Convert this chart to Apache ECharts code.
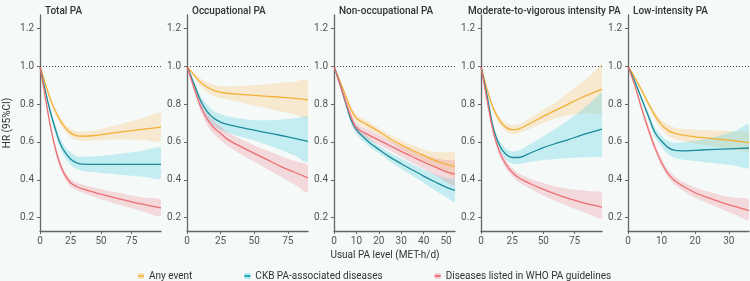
<!DOCTYPE html>
<html>
<head>
<meta charset="utf-8">
<script src="https://cdn.jsdelivr.net/npm/echarts@6/dist/echarts.min.js"></script>
<style>
  html, body { margin: 0; padding: 0; background: #f5f9f8; }
  #chart { width: 750px; height: 281px; }
</style>
</head>
<body>
<div id="chart"></div>
<script>
// panel setup
const panelTitles = ["Total PA", "Occupational PA", "Non-occupational PA", "Moderate-to-vigorous intensity PA", "Low-intensity PA"];
const titleLeft = [40, 187, 334, 463, 628];
const xMax = [99, 90, 54, 97, 36];
const xTicks = [[0, 25, 50, 75], [0, 25, 50, 75], [0, 10, 20, 30, 40, 50], [0, 25, 50, 75], [0, 10, 20, 30]];
const yTicks = [0.2, 0.4, 0.6, 0.8, 1.0, 1.2];
const groupNames = ["Any event", "CKB PA-associated diseases", "Diseases listed in WHO PA guidelines"];

// Total PA
const totalX = [0, 4, 8, 12, 16, 20, 25, 30, 35, 45, 55, 65, 75, 85, 99];
const totalAny = [1.0, 0.915, 0.835, 0.77, 0.72, 0.68, 0.648, 0.633, 0.63, 0.634, 0.643, 0.652, 0.66, 0.668, 0.678];
const totalAnyLo = [1.0, 0.91, 0.825, 0.755, 0.7, 0.66, 0.626, 0.61, 0.605, 0.609, 0.612, 0.613, 0.612, 0.61, 0.608];
const totalAnyHi = [1.0, 0.92, 0.845, 0.785, 0.74, 0.7, 0.67, 0.656, 0.655, 0.661, 0.676, 0.692, 0.71, 0.727, 0.75];
const totalCkb = [1.0, 0.88, 0.77, 0.68, 0.6, 0.55, 0.51, 0.49, 0.483, 0.482, 0.482, 0.482, 0.482, 0.482, 0.482];
const totalCkbLo = [1.0, 0.87, 0.75, 0.655, 0.575, 0.52, 0.48, 0.458, 0.447, 0.44, 0.433, 0.427, 0.422, 0.416, 0.41];
const totalCkbHi = [1.0, 0.89, 0.79, 0.705, 0.63, 0.58, 0.545, 0.525, 0.522, 0.525, 0.53, 0.537, 0.545, 0.555, 0.567];
const totalWho = [1.0, 0.85, 0.7, 0.58, 0.49, 0.43, 0.385, 0.365, 0.352, 0.333, 0.316, 0.299, 0.284, 0.27, 0.252];
const totalWhoLo = [1.0, 0.84, 0.685, 0.56, 0.47, 0.41, 0.365, 0.345, 0.332, 0.308, 0.288, 0.268, 0.25, 0.232, 0.21];
const totalWhoHi = [1.0, 0.86, 0.715, 0.6, 0.51, 0.45, 0.405, 0.386, 0.374, 0.358, 0.344, 0.33, 0.318, 0.306, 0.295];

// Occupational PA
const occX = [0, 5, 10, 15, 20, 25, 30, 40, 50, 60, 70, 80, 90];
const occAny = [1.0, 0.955, 0.915, 0.89, 0.872, 0.862, 0.857, 0.851, 0.846, 0.841, 0.836, 0.83, 0.822];
const occAnyLo = [1.0, 0.945, 0.895, 0.862, 0.842, 0.832, 0.826, 0.81, 0.792, 0.777, 0.762, 0.745, 0.728];
const occAnyHi = [1.0, 0.965, 0.935, 0.915, 0.902, 0.895, 0.893, 0.895, 0.9, 0.905, 0.912, 0.918, 0.925];
const occCkb = [1.0, 0.91, 0.82, 0.76, 0.725, 0.705, 0.693, 0.677, 0.662, 0.648, 0.634, 0.619, 0.603];
const occCkbLo = [1.0, 0.895, 0.795, 0.725, 0.685, 0.663, 0.65, 0.628, 0.608, 0.584, 0.558, 0.528, 0.495];
const occCkbHi = [1.0, 0.925, 0.845, 0.795, 0.763, 0.746, 0.736, 0.724, 0.715, 0.715, 0.719, 0.724, 0.73];
const occWho = [1.0, 0.89, 0.79, 0.72, 0.675, 0.645, 0.615, 0.575, 0.54, 0.505, 0.47, 0.44, 0.41];
const occWhoLo = [1.0, 0.875, 0.765, 0.69, 0.64, 0.61, 0.58, 0.535, 0.495, 0.455, 0.415, 0.375, 0.335];
const occWhoHi = [1.0, 0.905, 0.815, 0.75, 0.71, 0.68, 0.652, 0.615, 0.583, 0.553, 0.525, 0.5, 0.475];

// Non-occupational PA
const nonX = [0, 2.5, 5, 7.5, 10, 15, 20, 25, 30, 35, 40, 45, 50, 54];
const nonAny = [1.0, 0.925, 0.85, 0.775, 0.725, 0.69, 0.655, 0.617, 0.585, 0.556, 0.529, 0.503, 0.483, 0.47];
const nonAnyLo = [1.0, 0.92, 0.84, 0.76, 0.705, 0.67, 0.638, 0.6, 0.563, 0.53, 0.498, 0.466, 0.437, 0.415];
const nonAnyHi = [1.0, 0.93, 0.86, 0.79, 0.745, 0.71, 0.673, 0.638, 0.608, 0.583, 0.562, 0.548, 0.545, 0.545];
const nonCkb = [1.0, 0.91, 0.815, 0.72, 0.665, 0.605, 0.56, 0.52, 0.485, 0.452, 0.42, 0.39, 0.362, 0.345];
const nonCkbLo = [1.0, 0.9, 0.795, 0.7, 0.64, 0.583, 0.54, 0.497, 0.457, 0.422, 0.385, 0.345, 0.31, 0.285];
const nonCkbHi = [1.0, 0.92, 0.835, 0.74, 0.69, 0.628, 0.58, 0.543, 0.512, 0.482, 0.455, 0.43, 0.41, 0.4];
const nonWho = [1.0, 0.91, 0.82, 0.735, 0.675, 0.64, 0.61, 0.58, 0.55, 0.522, 0.494, 0.468, 0.443, 0.43];
const nonWhoLo = [1.0, 0.9, 0.8, 0.71, 0.65, 0.613, 0.585, 0.553, 0.52, 0.489, 0.457, 0.425, 0.39, 0.37];
const nonWhoHi = [1.0, 0.92, 0.84, 0.76, 0.7, 0.667, 0.637, 0.608, 0.581, 0.556, 0.533, 0.515, 0.505, 0.5];

// Moderate-to-vigorous intensity PA
const mvX = [0, 5, 10, 15, 20, 25, 30, 40, 50, 60, 70, 80, 90, 97];
const mvAny = [1.0, 0.875, 0.775, 0.713, 0.677, 0.665, 0.668, 0.7, 0.735, 0.768, 0.8, 0.832, 0.86, 0.877];
const mvAnyLo = [1.0, 0.865, 0.76, 0.693, 0.655, 0.64, 0.645, 0.672, 0.7, 0.725, 0.74, 0.748, 0.75, 0.75];
const mvAnyHi = [1.0, 0.885, 0.79, 0.733, 0.7, 0.69, 0.693, 0.728, 0.77, 0.81, 0.86, 0.91, 0.965, 1.01];
const mvCkb = [1.0, 0.84, 0.67, 0.58, 0.535, 0.518, 0.518, 0.543, 0.57, 0.592, 0.612, 0.635, 0.655, 0.668];
const mvCkbLo = [1.0, 0.83, 0.65, 0.555, 0.505, 0.485, 0.482, 0.495, 0.505, 0.51, 0.515, 0.518, 0.522, 0.525];
const mvCkbHi = [1.0, 0.85, 0.69, 0.605, 0.565, 0.55, 0.555, 0.59, 0.63, 0.67, 0.715, 0.765, 0.82, 0.855];
const mvWho = [1.0, 0.815, 0.65, 0.545, 0.482, 0.44, 0.412, 0.378, 0.35, 0.325, 0.302, 0.283, 0.266, 0.256];
const mvWhoLo = [1.0, 0.805, 0.635, 0.525, 0.46, 0.42, 0.39, 0.35, 0.318, 0.288, 0.26, 0.235, 0.21, 0.197];
const mvWhoHi = [1.0, 0.825, 0.665, 0.565, 0.505, 0.462, 0.435, 0.405, 0.383, 0.365, 0.352, 0.345, 0.338, 0.335];

// Low-intensity PA
const lowX = [0, 2, 4, 6, 8, 10, 12, 14, 16, 20, 24, 28, 32, 36];
const lowAny = [1.0, 0.94, 0.875, 0.805, 0.74, 0.69, 0.66, 0.645, 0.637, 0.627, 0.62, 0.613, 0.605, 0.596];
const lowAnyLo = [1.0, 0.935, 0.865, 0.79, 0.72, 0.665, 0.632, 0.615, 0.605, 0.59, 0.58, 0.57, 0.56, 0.55];
const lowAnyHi = [1.0, 0.945, 0.885, 0.82, 0.76, 0.715, 0.69, 0.676, 0.67, 0.665, 0.662, 0.66, 0.655, 0.65];
const lowCkb = [1.0, 0.92, 0.83, 0.74, 0.65, 0.604, 0.57, 0.555, 0.553, 0.556, 0.559, 0.562, 0.565, 0.568];
const lowCkbLo = [1.0, 0.91, 0.815, 0.72, 0.625, 0.575, 0.535, 0.515, 0.508, 0.5, 0.492, 0.484, 0.475, 0.465];
const lowCkbHi = [1.0, 0.93, 0.845, 0.76, 0.675, 0.633, 0.605, 0.595, 0.597, 0.607, 0.62, 0.637, 0.66, 0.69];
const lowWho = [1.0, 0.9, 0.78, 0.67, 0.57, 0.49, 0.43, 0.395, 0.37, 0.332, 0.305, 0.28, 0.258, 0.238];
const lowWhoLo = [1.0, 0.89, 0.765, 0.65, 0.55, 0.47, 0.41, 0.373, 0.348, 0.305, 0.275, 0.245, 0.215, 0.19];
const lowWhoHi = [1.0, 0.91, 0.795, 0.69, 0.59, 0.51, 0.45, 0.417, 0.392, 0.36, 0.337, 0.318, 0.305, 0.295];

const lineColors = ["#f2b136", "#1b8a99", "#ec6f72"];
const bandColors = ["rgba(250,200,125,0.32)", "rgba(70,210,225,0.28)", "rgba(240,125,140,0.26)"];
const legendFill = ["rgba(250,200,125,0.45)", "rgba(70,210,225,0.4)", "rgba(240,125,140,0.35)"];

const panels = [
  { x: totalX, est: [totalAny, totalCkb, totalWho], lo: [totalAnyLo, totalCkbLo, totalWhoLo], hi: [totalAnyHi, totalCkbHi, totalWhoHi] },
  { x: occX, est: [occAny, occCkb, occWho], lo: [occAnyLo, occCkbLo, occWhoLo], hi: [occAnyHi, occCkbHi, occWhoHi] },
  { x: nonX, est: [nonAny, nonCkb, nonWho], lo: [nonAnyLo, nonCkbLo, nonWhoLo], hi: [nonAnyHi, nonCkbHi, nonWhoHi] },
  { x: mvX, est: [mvAny, mvCkb, mvWho], lo: [mvAnyLo, mvCkbLo, mvWhoLo], hi: [mvAnyHi, mvCkbHi, mvWhoHi] },
  { x: lowX, est: [lowAny, lowCkb, lowWho], lo: [lowAnyLo, lowCkbLo, lowWhoLo], hi: [lowAnyHi, lowCkbHi, lowWhoHi] }
];

const axisColor = "#666";
const labelColor = "#555";
const font = "Roboto";

const grids = [], xAxes = [], yAxes = [], series = [], titles = [];

panels.forEach((p, i) => {
  grids.push({ left: 40 + 147 * i, width: 121, top: 15, height: 216 });
  xAxes.push({
    type: "value", gridIndex: i, min: 0, max: xMax[i],
    axisLine: { lineStyle: { color: axisColor, width: 1.3 } },
    axisTick: { length: 3, lineStyle: { color: axisColor }, customValues: xTicks[i] },
    axisLabel: { color: labelColor, fontSize: 10, fontFamily: font, margin: 5, customValues: xTicks[i] },
    splitLine: { show: false }
  });
  yAxes.push({
    type: "value", gridIndex: i, min: 0.13, max: 1.27,
    name: i === 0 ? "HR (95%CI)" : "",
    nameLocation: "middle", nameGap: 28, nameRotate: 90,
    nameTextStyle: { color: "#333", fontSize: 10, fontFamily: font },
    axisLine: { show: true, lineStyle: { color: axisColor, width: 1.3 } },
    axisTick: { show: true, length: 3, lineStyle: { color: axisColor }, customValues: yTicks },
    axisLabel: { color: labelColor, fontSize: 10, fontFamily: font, margin: 6, customValues: yTicks, formatter: v => v.toFixed(1) },
    splitLine: { show: false }
  });
  titles.push({
    text: panelTitles[i], left: titleLeft[i], top: 1,
    textStyle: { fontSize: 10, fontWeight: 500, color: "#333", fontFamily: font }
  });

  // CI bands drawn as one polygon per outcome through the axis scales
  for (let g = 0; g < 3; g++) {
    const xs = p.x, lo = p.lo[g], hi = p.hi[g];
    series.push({
      type: "custom", name: "ci" + i + g, xAxisIndex: i, yAxisIndex: i,
      silent: true, clip: true, z: 1,
      data: xs.map((x, k) => [x, lo[k], hi[k]]),
      encode: { x: 0, y: [1, 2] },
      renderItem: (params, api) => {
        if (params.dataIndex !== 0) return;
        const pts = [];
        for (let k = 0; k < xs.length; k++) pts.push(api.coord([xs[k], hi[k]]));
        for (let k = xs.length - 1; k >= 0; k--) pts.push(api.coord([xs[k], lo[k]]));
        return {
          type: "polygon",
          shape: { points: pts, smooth: 0.3 },
          style: { fill: bandColors[g] }
        };
      }
    });
  }
  // estimate lines
  for (let g = 0; g < 3; g++) {
    const s = {
      type: "line", name: groupNames[g], xAxisIndex: i, yAxisIndex: i, z: 3,
      data: p.x.map((x, k) => [x, p.est[g][k]]),
      symbol: "rect", showSymbol: false, smooth: 0.35, silent: true,
      itemStyle: { color: legendFill[g] },
      lineStyle: { color: lineColors[g], width: 1.3 },
      emphasis: { disabled: true }
    };
    if (g === 0) {
      s.markLine = {
        silent: true, symbol: "none", animation: false,
        data: [{ yAxis: 1 }],
        label: { show: false },
        lineStyle: { color: "#444", width: 1, type: [1, 2] }
      };
    }
    series.push(s);
  }
});

titles.push({
  text: "Usual PA level (MET-h/d)", left: 380, top: 245, textAlign: "center",
  textStyle: { fontSize: 10, fontWeight: "normal", color: "#333", fontFamily: font }
});

const chart = echarts.init(document.getElementById("chart"));
chart.setOption({
  backgroundColor: "#f5f9f8",
  animation: false,
  title: titles,
  grid: grids,
  xAxis: xAxes,
  yAxis: yAxes,
  legend: {
    data: groupNames,
    left: 132, top: 266,
    itemWidth: 6, itemHeight: 7.5, itemGap: 51,
    textStyle: { fontSize: 10, color: "#333", fontFamily: font }
  },
  series: series
});
</script>
</body>
</html>
